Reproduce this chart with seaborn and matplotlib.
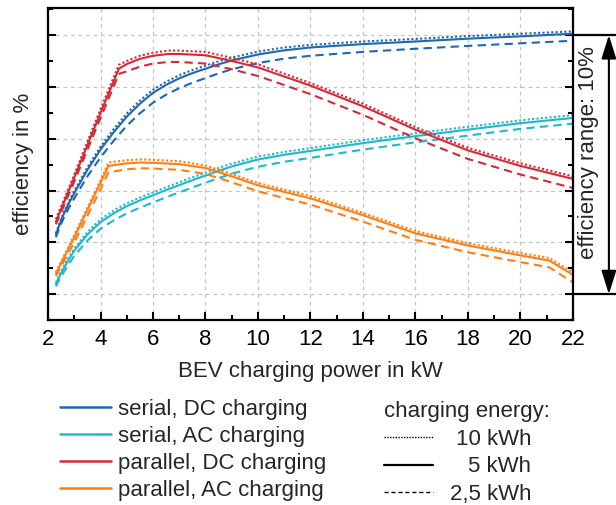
import numpy as np
import pandas as pd
import matplotlib
matplotlib.use('Agg')
from matplotlib import pyplot as plt
from matplotlib.lines import Line2D
from matplotlib.ticker import MultipleLocator
import matplotlib.transforms as mtransforms
import seaborn as sns

# charging power in kW (serial curves are smooth, parallel ones have a knee)
x_serial = [2.3, 2.45, 2.6, 2.8, 3, 3.5, 4, 4.5, 5, 5.5, 6, 6.5, 7, 7.5, 8, 8.5, 9, 10, 11, 12, 14, 16, 18, 20, 22]
x_par_dc = [2.3, 3, 4, 4.7, 5, 5.5, 6, 6.6, 7, 8, 9, 10, 12, 14, 16, 18, 20, 22]
x_par_ac = [2.3, 3, 4, 4.3, 5, 5.5, 6, 7, 8, 9, 10, 12, 14, 16, 18, 20, 21.1, 22]

# efficiency in % (the original has no y tick labels, values are estimated)
serial_dc_10 = [88.35, 88.78, 89.17, 89.6, 89.99, 90.9, 91.69, 92.37, 92.97, 93.47, 93.89, 94.2, 94.45, 94.65, 94.82, 94.99, 95.13, 95.36, 95.52, 95.62, 95.75, 95.85, 95.96, 96.05, 96.14]
serial_dc_5 = [88.3, 88.72, 89.1, 89.52, 89.9, 90.8, 91.58, 92.25, 92.85, 93.35, 93.77, 94.08, 94.33, 94.53, 94.7, 94.87, 95.02, 95.25, 95.41, 95.52, 95.65, 95.75, 95.86, 95.95, 96.05]
serial_dc_25 = [88.2, 88.6, 88.95, 89.34, 89.7, 90.55, 91.28, 91.92, 92.5, 92.98, 93.39, 93.7, 93.95, 94.16, 94.34, 94.52, 94.68, 94.92, 95.09, 95.2, 95.35, 95.47, 95.58, 95.68, 95.78]

serial_ac_10 = [86.45, 86.78, 87.07, 87.44, 87.76, 88.4, 88.89, 89.23, 89.51, 89.73, 89.93, 90.13, 90.32, 90.51, 90.69, 90.87, 91.04, 91.31, 91.49, 91.64, 91.94, 92.21, 92.46, 92.71, 92.91]
serial_ac_5 = [86.4, 86.72, 87.0, 87.36, 87.68, 88.3, 88.78, 89.12, 89.4, 89.62, 89.82, 90.02, 90.21, 90.4, 90.58, 90.76, 90.93, 91.2, 91.38, 91.53, 91.83, 92.1, 92.35, 92.6, 92.8]
serial_ac_25 = [86.3, 86.6, 86.85, 87.18, 87.48, 88.07, 88.53, 88.85, 89.12, 89.34, 89.54, 89.74, 89.93, 90.12, 90.3, 90.48, 90.65, 90.92, 91.11, 91.26, 91.58, 91.86, 92.12, 92.38, 92.58]

par_dc_10 = [88.9, 90.62, 93.15, 94.85, 95.0, 95.2, 95.32, 95.4, 95.4, 95.35, 95.12, 94.87, 94.15, 93.35, 92.45, 91.65, 91.05, 90.55]
par_dc_5 = [88.8, 90.5, 93.0, 94.7, 94.88, 95.08, 95.2, 95.27, 95.27, 95.22, 95.0, 94.75, 94.05, 93.25, 92.35, 91.55, 90.95, 90.45]
par_dc_25 = [88.7, 90.35, 92.8, 94.5, 94.6, 94.78, 94.9, 94.96, 94.96, 94.9, 94.68, 94.42, 93.72, 92.92, 92.02, 91.22, 90.62, 90.1]

par_ac_10 = [86.85, 88.28, 90.4, 91.08, 91.17, 91.2, 91.19, 91.13, 90.97, 90.64, 90.29, 89.79, 89.14, 88.44, 87.97, 87.59, 87.4, 86.85]
par_ac_5 = [86.8, 88.2, 90.3, 90.95, 91.05, 91.08, 91.07, 91.02, 90.87, 90.55, 90.2, 89.7, 89.05, 88.35, 87.88, 87.5, 87.3, 86.75]
par_ac_25 = [86.7, 88.0, 90.05, 90.7, 90.82, 90.86, 90.85, 90.8, 90.64, 90.32, 89.97, 89.46, 88.8, 88.1, 87.62, 87.24, 87.04, 86.46]

configs = ['serial, DC charging', 'serial, AC charging', 'parallel, DC charging', 'parallel, AC charging']
energies = ['10 kWh', '5 kWh', '2,5 kWh']
range_lo, range_hi = 86, 96  # efficiency range: 10%

colors = {'serial, DC charging': '#1f68b0', 'serial, AC charging': '#1fb8cc',
          'parallel, DC charging': '#d42a35', 'parallel, AC charging': '#ff7f14'}
dash_map = {'10 kWh': (1, 1.1), '5 kWh': '', '2,5 kWh': (4, 2.5)}

# long table for seaborn
series = [
    (configs[0], x_serial, [serial_dc_10, serial_dc_5, serial_dc_25]),
    (configs[1], x_serial, [serial_ac_10, serial_ac_5, serial_ac_25]),
    (configs[2], x_par_dc, [par_dc_10, par_dc_5, par_dc_25]),
    (configs[3], x_par_ac, [par_ac_10, par_ac_5, par_ac_25]),
]
frames = []
for name, xs, ys in series:
    for en, y in zip(energies, ys):
        frames.append(pd.DataFrame({'power': xs, 'eff': y, 'config': name, 'energy': en}))
df = pd.concat(frames, ignore_index=True)

sns.set_theme(style='white')
plt.rcParams['font.family'] = ['Liberation Sans', 'DejaVu Sans']
plt.rcParams['font.size'] = 16

fig = plt.figure(figsize=(6.16, 5.05), dpi=100)
ax = fig.add_axes([0.078, 0.366, 0.852, 0.618])

sns.lineplot(data=df, x='power', y='eff', hue='config', style='energy',
             hue_order=configs, style_order=energies, palette=colors,
             dashes=dash_map, estimator=None, sort=False, legend=False,
             linewidth=1.5, ax=ax)

ax.set_xlim(2, 22)
ax.set_ylim(85.0, 97.04)
ax.xaxis.set_major_locator(MultipleLocator(2))
ax.xaxis.set_minor_locator(MultipleLocator(1))
ax.yaxis.set_major_locator(MultipleLocator(2))
ax.yaxis.set_minor_locator(MultipleLocator(1))
ax.grid(True, which='major', color='#c4c4c4', linestyle=(0, (3, 3)), linewidth=0.9)
ax.set_axisbelow(True)
for s in ax.spines.values():
    s.set_color('black')
    s.set_linewidth(1.6)
ax.tick_params(which='both', direction='in', left=True, right=True, bottom=True, top=False,
               labelleft=False, width=1.5, colors='black')
ax.tick_params(which='major', length=6, pad=6, labelsize=16)
ax.tick_params(which='minor', length=3.5)
ax.set_xlabel('BEV charging power in kW', fontsize=16, labelpad=8)
ax.set_ylabel('efficiency in %', fontsize=16, labelpad=10)

# efficiency range marker on the right
trans = mtransforms.blended_transform_factory(ax.transAxes, ax.transData)
for yv in (range_lo, range_hi):
    ax.plot([1.0, 1.085], [yv, yv], color='black', lw=1.6, transform=trans, clip_on=False)
ax.annotate('', xy=(1.0686, range_hi), xytext=(1.0686, range_lo),
            xycoords=trans, textcoords=trans,
            arrowprops=dict(arrowstyle='<|-|>,head_length=0.8,head_width=0.25',
                            mutation_scale=18, color='black', lw=1.5,
                            shrinkA=0, shrinkB=0))
ax.text(1.029, 91.45, 'efficiency range: 10%', transform=trans,
        rotation=90, ha='center', va='center', fontsize=16)

# legends
h1 = [Line2D([], [], color=colors[c], lw=1.8) for c in configs]
leg1 = fig.legend(h1, configs, loc='upper left', bbox_to_anchor=(0.098, 0.210),
                  frameon=False, fontsize=16, handlelength=2.3, handletextpad=0.3,
                  labelspacing=0.27, borderpad=0, borderaxespad=0)
h2 = [Line2D([], [], color='black', lw=1.0, dashes=(1, 1)),
      Line2D([], [], color='black', lw=1.6),
      Line2D([], [], color='black', lw=1.0, dashes=(3, 2))]
leg2 = fig.legend(h2, energies, loc='upper left',
                  bbox_to_anchor=(0.624, 0.206), title='charging energy:',
                  title_fontsize=16, alignment='left',
                  frameon=False, fontsize=16, handlelength=2.2, handletextpad=0.3,
                  labelspacing=0.3, borderpad=0, borderaxespad=0)

# energy labels are right aligned in the original
fig.canvas.draw()
inv = fig.transFigure.inverted()
for t in leg2.get_texts():
    bb = t.get_window_extent()
    yc = inv.transform((0, (bb.y0 + bb.y1) / 2))[1]
    fig.text(531 / 616, yc, t.get_text(), ha='right', va='center', fontsize=16)
    t.set_alpha(0)

fig.savefig('out.png', dpi=100)
